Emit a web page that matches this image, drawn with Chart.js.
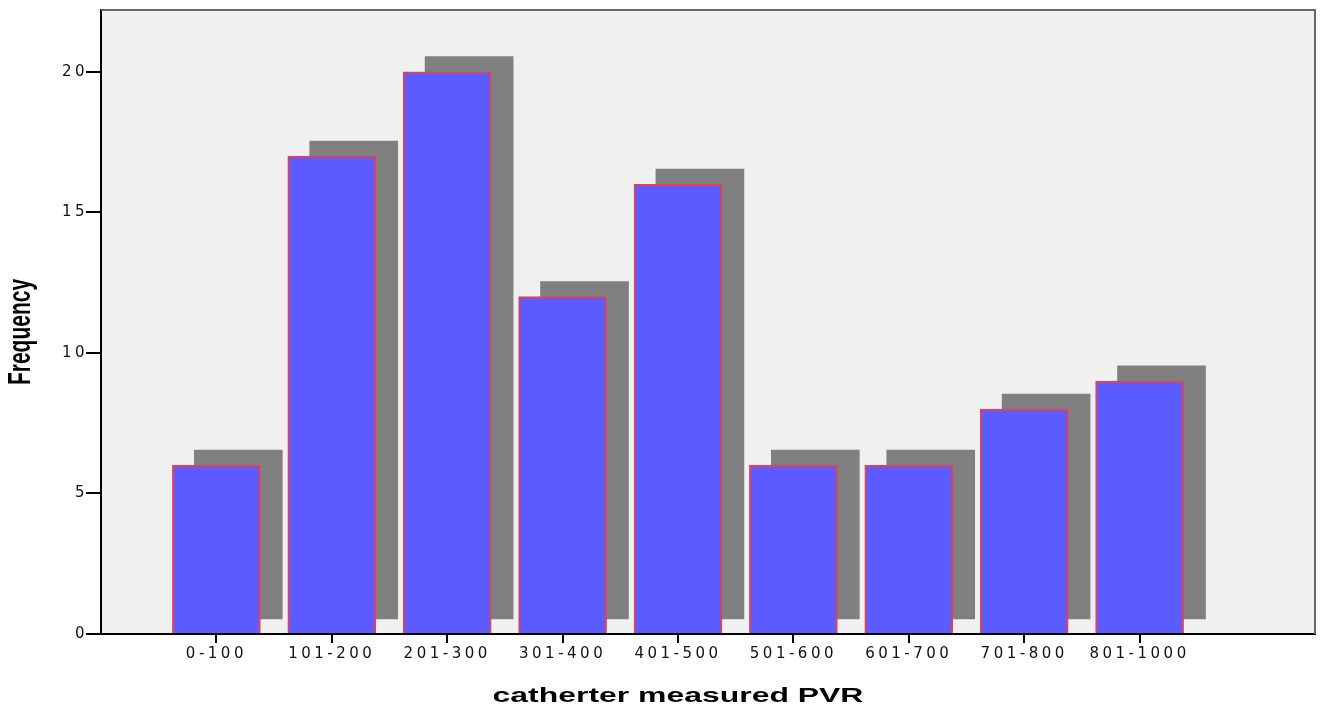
<!DOCTYPE html>
<html>
<head>
<meta charset="utf-8">
<script src="https://cdn.jsdelivr.net/npm/chart.js@4.4.0/dist/chart.umd.min.js"></script>
<style>
  html, body { margin: 0; padding: 0; background: #fff; }
  canvas { display: block; }
</style>
</head>
<body>
<canvas id="myChart" width="1320" height="707"></canvas>
<script>
const categories = ['0-100', '101-200', '201-300', '301-400', '401-500', '501-600', '601-700', '701-800', '801-1000'];
const frequency = [6, 17, 20, 12, 16, 6, 6, 8, 9];

// spss style drop shadow, in axis units
const SHADOW_DX = 0.19;
const SHADOW_DY = 0.54;

const TICK_SPACING = '3.5px';
const FONT = "'Liberation Sans', Arial, sans-serif";
const TICK_FONT = "'DejaVu Sans', Verdana, sans-serif";

// the reference image is stretched sideways, so titles get a horizontal scale
function patchTitle(scale, getPivot, sx, dx, dy) {
  if (!scale || scale._patched) return;
  const orig = scale.drawTitle;
  scale.drawTitle = function () {
    const ctx = this.ctx;
    const prev = ctx.letterSpacing;
    const px = getPivot(this);
    ctx.save();
    ctx.letterSpacing = '0px';
    ctx.translate(px + dx(this), dy);
    ctx.scale(sx, 1);
    ctx.translate(-px, 0);
    orig.call(this);
    ctx.restore();
    ctx.letterSpacing = prev;
  };
  scale._patched = true;
}

const spssLook = {
  id: 'spssLook',
  beforeLayout(chart) {
    chart.ctx.letterSpacing = TICK_SPACING;
  },
  afterLayout(chart) {
    patchTitle(chart.scales.x,
      (s) => (s.left + s.right) / 2, 1.52,
      (s) => s.getPixelForValue((categories.length - 1) / 2) - (s.left + s.right) / 2, 0);
    patchTitle(chart.scales.y,
      (s) => s.left + s.options.title.padding.top + s.options.title.font.size * 0.6, 1.45,
      () => 0, 10);
  },
  beforeDraw(chart) {
    const {ctx, chartArea: a} = chart;
    ctx.letterSpacing = TICK_SPACING;
    ctx.save();
    ctx.fillStyle = '#f0f0f0';
    ctx.fillRect(a.left, a.top, a.right - a.left, a.bottom - a.top);
    ctx.restore();
  },
  afterDraw(chart) {
    const {ctx, chartArea: a} = chart;
    ctx.save();
    ctx.strokeStyle = '#666666';
    ctx.lineWidth = 2;
    ctx.beginPath();
    ctx.moveTo(a.left, a.top);
    ctx.lineTo(a.right, a.top);
    ctx.lineTo(a.right, a.bottom);
    ctx.stroke();
    ctx.restore();
  }
};

const ctx = document.getElementById('myChart');

new Chart(ctx, {
  type: 'bar',
  data: {
    datasets: [{
      data: frequency.map((v, i) => ({x: i, y: v})),
      backgroundColor: '#5b5bff',
      borderColor: '#e0405a',
      borderWidth: 2,
      barThickness: 88,
      grouped: false
    }, {
      data: frequency.map((v, i) => ({x: i + SHADOW_DX, y: [SHADOW_DY, v + SHADOW_DY]})),
      backgroundColor: '#808080',
      borderWidth: 0,
      barThickness: 88,
      grouped: false
    }]
  },
  options: {
    responsive: false,
    animation: false,
    devicePixelRatio: 1,
    layout: { padding: { top: 10, right: 5, left: 0, bottom: 0 } },
    plugins: {
      legend: { display: false },
      tooltip: { enabled: false }
    },
    scales: {
      x: {
        type: 'linear',
        min: -1,
        max: 9.52,
        offset: false,
        afterBuildTicks: (scale) => {
          scale.ticks = categories.map((c, i) => ({value: i}));
        },
        afterFit: (scale) => { scale.height = 73; },
        grid: { offset: false, drawOnChartArea: false, drawTicks: true, tickLength: 9, color: '#000', lineWidth: 2 },
        border: { display: true, color: '#000', width: 2 },
        ticks: {
          autoSkip: false,
          maxRotation: 0,
          padding: 2,
          color: '#111',
          font: { family: TICK_FONT, size: 15 },
          callback: (v) => categories[v] ?? ''
        },
        title: {
          display: true,
          text: 'catherter measured PVR',
          color: '#000',
          padding: { top: 0, bottom: 0 },
          font: { family: FONT, size: 21, weight: 'bold', lineHeight: 1 }
        }
      },
      y: {
        min: 0,
        max: 22.2,
        afterFit: (scale) => { scale.width = 101; },
        grid: { drawOnChartArea: false, drawTicks: true, tickLength: 15, color: '#000', lineWidth: 2 },
        border: { display: true, color: '#000', width: 2 },
        ticks: {
          stepSize: 5,
          includeBounds: false,
          padding: -2,
          color: '#111',
          font: { family: TICK_FONT, size: 15 }
        },
        title: {
          display: true,
          text: 'Frequency',
          color: '#000',
          padding: { top: 9, bottom: 0 },
          font: { family: FONT, size: 21, weight: 'bold' }
        }
      }
    }
  },
  plugins: [spssLook]
});
</script>
</body>
</html>
